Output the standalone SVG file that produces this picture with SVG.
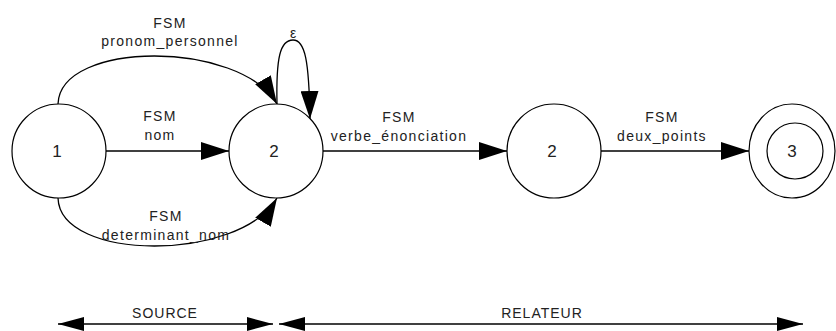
<svg xmlns="http://www.w3.org/2000/svg" width="836" height="331" viewBox="0 0 836 331">
<style>
.node{fill:#fff;stroke:#000;stroke-width:1.2}
.edge{fill:none;stroke:#000;stroke-width:1.3}
.lbl{font-family:"Liberation Sans",Arial,sans-serif;font-size:14px;letter-spacing:1.3px;fill:#222;text-anchor:middle}
.num{font-family:"Liberation Sans",Arial,sans-serif;font-size:17px;fill:#222;text-anchor:middle}
.dim{font-family:"Liberation Sans Narrow","Liberation Sans",Arial,sans-serif;font-size:14px;letter-spacing:1px;fill:#222;text-anchor:middle}
</style>
<defs>
<marker id="ah" viewBox="0 0 28 18" refX="28" refY="9" markerWidth="28" markerHeight="18" markerUnits="userSpaceOnUse" orient="auto">
<path d="M0,0 L28,9 L0,18 Z" fill="#000"/>
</marker>
<marker id="dh" viewBox="0 0 26 14" refX="26" refY="7" markerWidth="26" markerHeight="14" markerUnits="userSpaceOnUse" orient="auto-start-reverse">
<path d="M0,0 L26,7 L0,14 Z" fill="#000"/>
</marker>
</defs>
<rect width="836" height="331" fill="#fff"/>
<g id="connectors">
<path class="edge" d="M106,151 L229,151" marker-end="url(#ah)"/>
<path class="edge" d="M58,104 C60,40 240,40 277,104" marker-end="url(#ah)"/>
<path class="edge" d="M58,198 C60,262 240,262 277,198" marker-end="url(#ah)"/>
<path class="edge" d="M277,104 C276,58 280,40 293,40 C305,40 309,60 310,119" marker-end="url(#ah)"/>
<path class="edge" d="M323,151 L507,151" marker-end="url(#ah)"/>
<path class="edge" d="M601,151 L749,151" marker-end="url(#ah)"/>
<text class="lbl" x="170" y="28">FSM</text>
<text class="lbl" x="170" y="46">pronom_personnel</text>
<text class="lbl" x="160" y="121">FSM</text>
<text class="lbl" x="160" y="140">nom</text>
<text class="lbl" x="166" y="221">FSM</text>
<text class="lbl" x="166" y="240">determinant_nom</text>
<text class="lbl" x="293" y="38" style="letter-spacing:0">ε</text>
<text class="lbl" x="399" y="122">FSM</text>
<text class="lbl" x="399" y="141">verbe_énonciation</text>
<text class="lbl" x="662" y="122">FSM</text>
<text class="lbl" x="662" y="141">deux_points</text>
</g>
<g id="node1"><circle class="node" cx="59" cy="151" r="47"/><text class="num" x="57" y="157">1</text></g>
<g id="node2"><circle class="node" cx="276" cy="151" r="47"/><text class="num" x="274" y="157">2</text></g>
<g id="node2b"><circle class="node" cx="554" cy="151" r="47"/><text class="num" x="552" y="157">2</text></g>
<g id="node3"><ellipse class="node" cx="792" cy="151" rx="43" ry="47"/><circle class="node" cx="795" cy="151" r="28"/><text class="num" x="792" y="157">3</text></g>
<g id="legend">
<path class="edge" d="M58,324 L273,324" marker-start="url(#dh)" marker-end="url(#dh)"/>
<path class="edge" d="M279,324 L803,324" marker-start="url(#dh)" marker-end="url(#dh)"/>
<text class="dim" x="165" y="318">SOURCE</text>
<text class="dim" x="542" y="318">RELATEUR</text>
</g>
</svg>
